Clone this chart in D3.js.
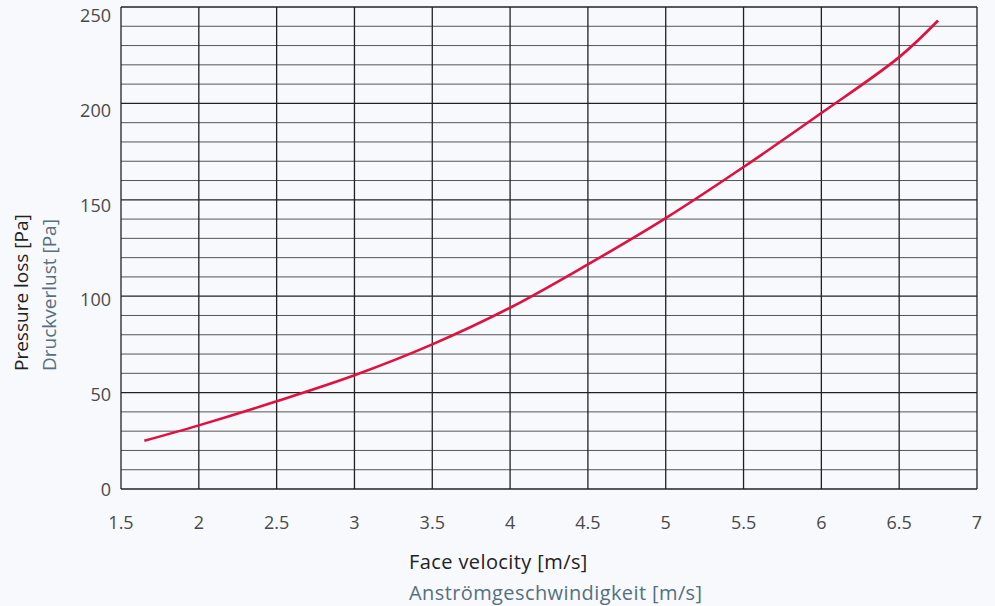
<!DOCTYPE html>
<html>
<head>
<meta charset="utf-8">
<script src="https://cdn.jsdelivr.net/npm/d3@7.9.0/dist/d3.min.js"></script>
<style>
  body { margin: 0; background: #f7f9fc; font-family: "Open Sans", Lato, sans-serif; }
  svg { display: block; }
</style>
</head>
<body>
<svg id="chart" width="995" height="606"></svg>
<script>
// face velocity [m/s] vs pressure loss [Pa]
const velocity = [1.65, 2, 2.5, 3, 3.5, 4, 4.5, 5, 5.5, 6, 6.5, 6.75];
const pressure = [25, 33, 45.5, 59, 75, 94, 116.5, 140.5, 167, 195, 224, 243];
const xTicks = [1.5, 2, 2.5, 3, 3.5, 4, 4.5, 5, 5.5, 6, 6.5, 7];
const yTicks = [0, 50, 100, 150, 200, 250];
const yGrid = d3.range(0, 251, 10);

const svg = d3.select('#chart');
const margin = { left: 121, right: 18, top: 7, bottom: 117 };
const W = 995, H = 606;

const x = d3.scaleLinear().domain([1.5, 7]).range([margin.left, W - margin.right]);
const y = d3.scaleLinear().domain([0, 250]).range([H - margin.bottom, margin.top]);

// horizontal grid
svg.append('g').selectAll('line').data(yGrid).join('line')
  .attr('x1', x(1.5)).attr('x2', x(7))
  .attr('y1', d => y(d)).attr('y2', d => y(d))
  .attr('stroke', d => d % 50 === 0 ? '#222' : '#555')
  .attr('stroke-width', d => d % 50 === 0 ? 1.3 : 1);

// vertical grid
svg.append('g').selectAll('line').data(xTicks).join('line')
  .attr('x1', d => x(d)).attr('x2', d => x(d))
  .attr('y1', y(0)).attr('y2', y(250))
  .attr('stroke', '#222').attr('stroke-width', 1.3);

// tick labels
svg.append('g').selectAll('text').data(xTicks).join('text')
  .attr('x', d => x(d)).attr('y', y(0) + 40)
  .attr('text-anchor', 'middle')
  .attr('font-size', 18).attr('fill', '#4a4a4a')
  .text(d => d);

svg.append('g').selectAll('text').data(yTicks).join('text')
  .attr('x', x(1.5) - 10).attr('y', d => y(d) + 7 + d / 250 * 8)
  .attr('text-anchor', 'end')
  .attr('font-size', 18).attr('fill', '#4a4a4a')
  .text(d => d);

// curve
const line = d3.line()
  .x((d, i) => x(velocity[i]))
  .y(d => y(d))
  .curve(d3.curveCatmullRom.alpha(0.5));

svg.append('path')
  .attr('d', line(pressure))
  .attr('fill', 'none')
  .attr('stroke', '#e0103f')
  .attr('stroke-width', 2.6);

// axis titles
svg.append('text').attr('x', 409).attr('y', 569)
  .attr('font-size', 20).attr('letter-spacing', 0.4).attr('fill', '#222')
  .text('Face velocity [m/s]');
svg.append('text').attr('x', 409).attr('y', 600)
  .attr('font-size', 20).attr('letter-spacing', 0.4).attr('fill', '#56707f')
  .text('Anströmgeschwindigkeit [m/s]');

svg.append('text')
  .attr('transform', 'translate(28,371) rotate(-90)')
  .attr('font-size', 19).attr('fill', '#222')
  .text('Pressure loss [Pa]');
svg.append('text')
  .attr('transform', 'translate(56,371) rotate(-90)')
  .attr('font-size', 19).attr('fill', '#56707f')
  .text('Druckverlust [Pa]');
</script>
</body>
</html>
